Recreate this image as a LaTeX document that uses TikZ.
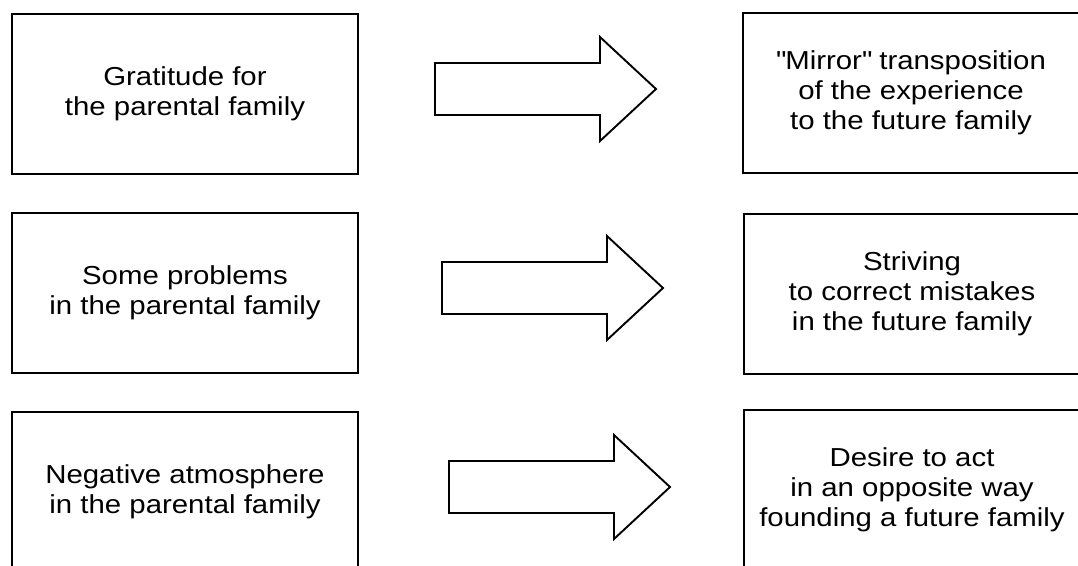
\documentclass[tikz,border=0pt]{standalone}
\usepackage{fontspec}
\setmainfont{Liberation Sans}[FakeStretch=1.13]
\newcommand{\straightquote}{\XeTeXglyph\XeTeXcharglyph"22\relax}
\begin{document}
\begin{tikzpicture}[x=1pt,y=-1pt,line join=miter]
	\tikzset{box/.style={draw,line width=1.9pt,minimum height=160,inner sep=0pt,
			align=center,font=\fontsize{26}{30}\selectfont},
		leftbox/.style={box,minimum width=346},
		rightbox/.style={box,minimum width=336},
		bigarrow/.style={draw,line width=1.9pt}
	}
	\useasboundingbox (0,0) rectangle (1078,565);
	\clip (0,0) rectangle (1078,565);
	% parental family
	\node[leftbox] (l1) at (185,94) {Gratitude for\\the parental family};
	\node[leftbox] (l2) at (185,293) {Some problems\\in the parental family};
	\node[leftbox] (l3) at (185,492) {Negative atmosphere\\in the parental family};
	% future family
	\node[rightbox] (r1) at (911,93) {\straightquote Mirror\straightquote{} transposition\\of the experience\\to the future family};
	\node[rightbox] (r2) at (912,294) {Striving\\to correct mistakes\\in the future family};
	\node[rightbox] (r3) at (912,490) {Desire to act\\in an opposite way\\founding a future family};
	% block arrows
	\foreach \i/\tx/\ty in {1/435/89,2/442/288,3/449/487}{
		\coordinate (t\i) at (\tx,\ty);
		\draw[bigarrow] (t\i) ++(0,-26) -- ++(165,0) -- ++(0,-26) -- ++(56,52)
			-- ++(-56,52) -- ++(0,-26) -- ++(-165,0) -- cycle;
	}
\end{tikzpicture}
\end{document}
